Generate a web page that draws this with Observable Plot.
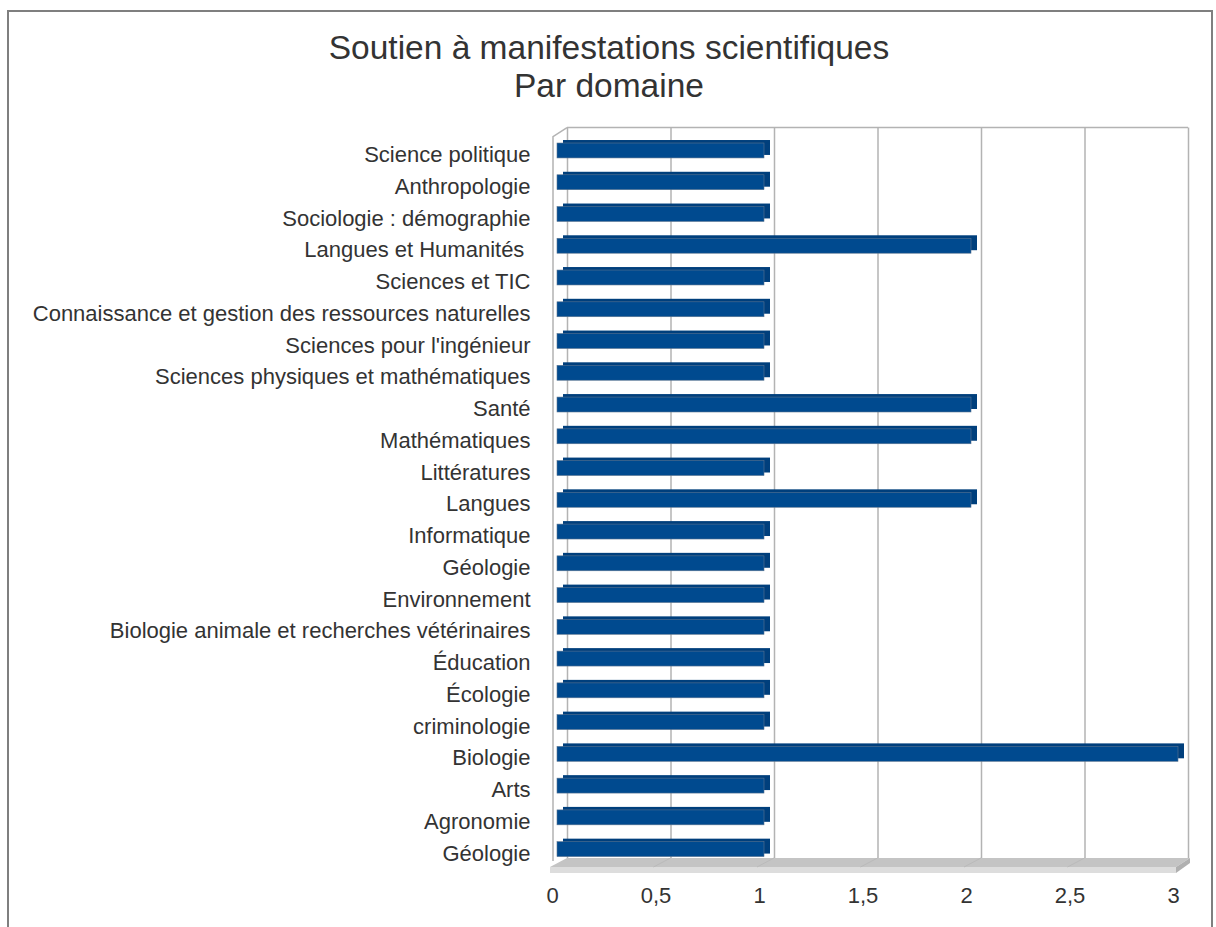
<!DOCTYPE html>
<html>
<head>
<meta charset="utf-8">
<script src="https://cdn.jsdelivr.net/npm/d3@7"></script>
<script src="https://cdn.jsdelivr.net/npm/@observablehq/plot@0.6"></script>
<style>
  html, body { margin: 0; padding: 0; background: #fff; overflow: hidden; }
  #wrap { position: relative; width: 1216px; height: 927px; font-family: "Liberation Sans", Arial, sans-serif; }
  #border { position: absolute; left: 7px; top: 10px; width: 1206px; height: 960px; border: 2px solid #7f7f7f; box-sizing: border-box; }
  #title { position: absolute; left: 7px; width: 1204px; top: 29px; text-align: center; font-size: 33.5px; line-height: 38px; color: #333; }
  #chart { position: absolute; left: 0; top: 120px; }
</style>
</head>
<body>
<div id="wrap">
  <div id="border"></div>
  <div id="title">Soutien à manifestations scientifiques<br>Par domaine</div>
  <div id="chart"></div>
</div>
<script>
const domaines = [
  "Science politique",
  "Anthropologie",
  "Sociologie : démographie",
  "Langues et Humanités ",
  "Sciences et TIC",
  "Connaissance et gestion des ressources naturelles",
  "Sciences pour l'ingénieur",
  "Sciences physiques et mathématiques",
  "Santé",
  "Mathématiques",
  "Littératures",
  "Langues",
  "Informatique",
  "Géologie",
  "Environnement",
  "Biologie animale et recherches vétérinaires",
  "Éducation",
  "Écologie",
  "criminologie",
  "Biologie",
  "Arts",
  "Agronomie",
  "Géologie"
];
const valeurs = [1, 1, 1, 2, 1, 1, 1, 1, 2, 2, 1, 2, 1, 1, 1, 1, 1, 1, 1, 3, 1, 1, 1];
const xTicks = [0, 0.5, 1, 1.5, 2, 2.5, 3];

const data = domaines.map((d, i) => ({idx: i, domaine: d, valeur: valeurs[i]}));

// 3D depth offsets (style)
const backDx = 10, backDy = -7;
const barDx = 6, barDy = -3;

function decor(index, scales, values, dim) {
  const x = scales.x;
  const T = dim.marginTop, B = dim.height - dim.marginBottom;
  const x0 = x(0), x3 = x(3);
  const g = d3.create("svg:g");
  const pts = a => a.map(p => p.join(",")).join(" ");
  // floor top surface
  g.append("polygon")
    .attr("points", pts([[x0 + backDx, B + backDy], [x3 + backDx + 2, B + backDy], [x3 - 2, B + 2], [x0 - 7, B + 2]]))
    .attr("fill", "#c4c4c4");
  // floor front face
  g.append("polygon")
    .attr("points", pts([[x0 - 7, B + 2], [x3 - 2, B + 2], [x3 - 2, B + 8], [x0 - 7, B + 8]]))
    .attr("fill", "#dddddd");
  // floor right side
  g.append("polygon")
    .attr("points", pts([[x3 - 2, B + 2], [x3 + backDx + 2, B + backDy], [x3 + backDx + 2, B + backDy + 5], [x3 - 2, B + 8]]))
    .attr("fill", "#b0b0b0");
  // faint floor grid diagonals
  for (const t of xTicks.slice(1, -1)) {
    g.append("line")
      .attr("x1", x(t) + backDx).attr("y1", B + backDy)
      .attr("x2", x(t) - 7).attr("y2", B + 2)
      .attr("stroke", "#bababa").attr("stroke-width", 1);
  }
  // back wall top edge
  g.append("line")
    .attr("x1", x0 + backDx).attr("x2", x3 + backDx)
    .attr("y1", T + backDy).attr("y2", T + backDy)
    .attr("stroke", "#b3b3b3").attr("stroke-width", 1.5);
  // left wall edge
  g.append("polyline")
    .attr("points", pts([[x0 - 4, B + backDy + 3], [x0 - 4, T + 2], [x0 + backDx, T + backDy]]))
    .attr("fill", "none").attr("stroke", "#b3b3b3").attr("stroke-width", 1.5);
  return g.node();
}

const plot = Plot.plot({
  width: 1216,
  height: 807,
  marginLeft: 557,
  marginRight: 38,
  marginTop: 14.6,
  marginBottom: 62,
  style: { fontFamily: "'Liberation Sans', Arial, sans-serif", fontSize: "22px", color: "#333", background: "transparent" },
  x: { domain: [0, 3], ticks: xTicks, label: null },
  y: { domain: d3.range(domaines.length), paddingInner: 0.53, paddingOuter: 0.265, round: false, label: null },
  marks: [
    decor,
    Plot.ruleX(xTicks, { x: d => d, stroke: "#b3b3b3", strokeWidth: 1.5, strokeOpacity: 1, dx: backDx, dy: backDy }),
    Plot.barX(data, { x: "valeur", y: "idx", fill: "#003f7c", dx: barDx, dy: barDy }),
    Plot.barX(data, { x: "valeur", y: "idx", fill: "#004a8f", stroke: "#5a7490", strokeWidth: 0.6, inset: 0 }),
    Plot.axisY({ tickSize: 0, tickPadding: 27, tickFormat: i => domaines[i], fill: "#333", dy: 4, fontSize: 22 }),
    Plot.axisX({ ticks: xTicks, tickSize: 0, tickPadding: 22, dx: -5, tickFormat: d => String(d).replace(".", ","), fill: "#333", fontSize: 22 })
  ]
});
document.getElementById("chart").appendChild(plot);
</script>
</body>
</html>
